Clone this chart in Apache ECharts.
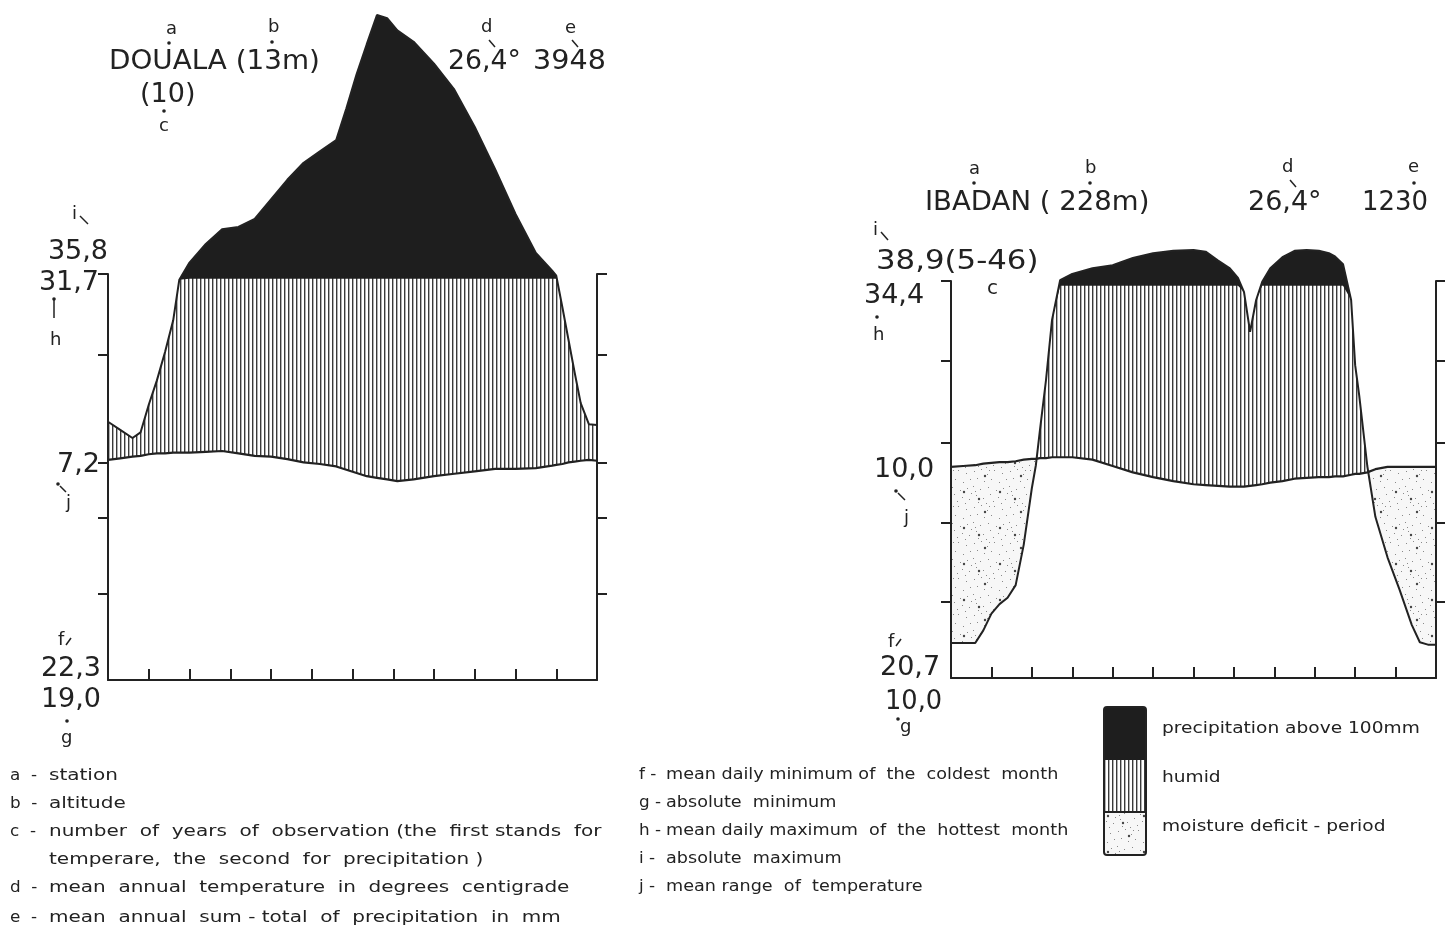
<!DOCTYPE html>
<html><head><meta charset="utf-8">
<script src="https://cdn.jsdelivr.net/npm/echarts@6/dist/echarts.min.js"></script>
<style>html,body{margin:0;padding:0;background:#fff}#c{width:1445px;height:931px}</style>
</head><body><div id="c"></div>
<script>
// ---- DATA (diagram units: 10 units = 10 °C = 20 mm; 50 units = 100 mm; above that 1 unit = 20 mm) ----
const doualaMonths = [0,0.3,0.6,0.8,1.0,1.2,1.4,1.6,1.75,2.0,2.4,2.8,3.2,3.6,4.0,4.4,4.8,5.2,5.6,5.85,6.1,6.35,6.6,6.85,7.1,7.5,8.0,8.5,9.0,9.5,10.0,10.5,10.9,11.0,11.15,11.3,11.45,11.6,11.8,12];
const doualaTemp = [27.1,27.3,27.5,27.6,27.8,27.9,27.9,28.0,28.0,28.0,28.1,28.2,27.9,27.6,27.5,27.2,26.8,26.6,26.3,25.9,25.5,25.1,24.9,24.7,24.5,24.7,25.1,25.4,25.7,26.0,26.0,26.1,26.4,26.5,26.6,26.8,26.9,27.0,27.1,27.0];
const doualaPrecip = [31.8,30.8,29.8,30.5,33.9,36.9,40.4,44.3,49.3,51.4,53.7,55.5,55.8,56.8,59.2,61.6,63.7,65.1,66.5,70.4,74.6,78.3,81.9,81.5,80.0,78.6,75.9,72.7,68.1,62.9,57.4,52.6,50.4,49.8,45.9,41.9,37.9,34.1,31.5,31.4];
const doualaTicks = [10.6,20,26.8,40,50];

const ibadanMonths = [0,0.3,0.6,0.8,1.0,1.2,1.4,1.6,1.8,2.0,2.1,2.2,2.35,2.5,2.7,3.0,3.5,4.0,4.5,5.0,5.5,6.0,6.3,6.6,6.9,7.1,7.25,7.4,7.55,7.7,7.9,8.2,8.5,8.8,9.1,9.35,9.5,9.7,9.9,10.0,10.1,10.3,10.5,10.8,11.1,11.4,11.6,11.8,12];
const ibadanTemp = [26.6,26.7,26.8,27.0,27.1,27.2,27.2,27.3,27.5,27.6,27.6,27.7,27.7,27.8,27.8,27.8,27.5,26.7,25.9,25.3,24.8,24.4,24.3,24.2,24.1,24.1,24.1,24.2,24.3,24.4,24.6,24.8,25.1,25.2,25.3,25.3,25.4,25.4,25.6,25.7,25.7,25.9,26.3,26.6,26.6,26.6,26.6,26.6,26.6];
const ibadanPrecip = [4.4,4.4,4.4,6.0,8.1,9.3,10.1,11.7,16.8,23.9,26.8,31.2,37.5,45.1,50.1,50.9,51.6,52.0,52.9,53.5,53.8,53.9,53.7,52.6,51.6,50.4,48.6,43.6,47.6,49.9,51.6,53.0,53.8,53.9,53.8,53.5,53.1,52.1,47.6,39.4,35.6,26.7,20.3,15.2,11.1,6.7,4.5,4.2,4.2];
const ibadanTicks = [9.6,19.6,29.6,40,50];

const PCAP = 49.4; // 100 mm level

// ---- patterns ----
function hatchPattern(){
  const c=document.createElement('canvas'); c.width=4; c.height=8;
  const x=c.getContext('2d'); x.fillStyle='#fff'; x.fillRect(0,0,4,8);
  x.fillStyle='#3a3a3a'; x.fillRect(0,0,1,8);
  x.fillStyle='#b0b0b0'; x.fillRect(1,0,1,8);
  return c;
}
function dotPattern(){
  const c=document.createElement('canvas'); c.width=36; c.height=36;
  const x=c.getContext('2d'); x.fillStyle='#f7f7f7'; x.fillRect(0,0,36,36);
  const small=[[2,3],[9,1],[15,6],[22,2],[30,5],[34,11],[5,10],[12,13],[19,11],[27,14],[1,18],[8,21],[16,19],[24,22],[31,20],[4,27],[11,30],[18,26],[26,29],[33,31],[6,34],[14,35],[21,33],[29,35],[35,25],[17,2],[3,23]];
  x.fillStyle='#8a8a8a';
  small.forEach(p=>x.fillRect(p[0],p[1],1,1));
  x.fillStyle='#444';
  [[13,8],[28,24],[7,31]].forEach(p=>{x.beginPath();x.arc(p[0],p[1],1.2,0,Math.PI*2);x.fill();});
  return c;
}
const HATCH={image:hatchPattern(),repeat:'repeat'};
const DOTS={image:dotPattern(),repeat:'repeat'};
const INK='#222';

function panel(idx, months, T, P, dry){
  const pairs=a=>months.map((m,i)=>[m,a[i]]);
  const base={type:'line',xAxisIndex:idx,yAxisIndex:idx*2,symbol:'none',showSymbol:false,clip:false,silent:true,animation:false};
  const hid={opacity:0,width:0};
  const s=[];
  s.push(Object.assign({},base,{name:'above100',data:pairs(P),lineStyle:hid,areaStyle:{color:'#1e1e1e',opacity:1,origin:'start'},z:2}));
  s.push(Object.assign({},base,{name:'humid',data:pairs(P.map(v=>Math.min(v,PCAP))),lineStyle:hid,areaStyle:{color:HATCH,opacity:1,origin:'start'},z:3}));
  if(dry){
    s.push(Object.assign({},base,{name:'dry',data:pairs(T),lineStyle:hid,areaStyle:{color:DOTS,opacity:1,origin:'start'},z:4}));
    s.push(Object.assign({},base,{name:'blank',data:pairs(T.map((t,i)=>Math.min(t,P[i]))),lineStyle:hid,areaStyle:{color:'#fff',opacity:1,origin:'start'},z:5}));
  } else {
    s.push(Object.assign({},base,{name:'blank',data:pairs(T),lineStyle:hid,areaStyle:{color:'#fff',opacity:1,origin:'start'},z:5}));
  }
  s.push(Object.assign({},base,{name:'temperature',data:pairs(T),lineStyle:{color:INK,width:2.2},z:6}));
  s.push(Object.assign({},base,{name:'precipitation',data:pairs(P),lineStyle:{color:INK,width:2},z:6}));
  return s;
}

function xAx(g){return {type:'value',gridIndex:g,min:0,max:12,interval:1,z:10,
  axisLine:{onZero:false,lineStyle:{color:INK,width:2}},
  axisTick:{inside:true,length:11,lineStyle:{color:INK,width:2}},
  axisLabel:{show:false},splitLine:{show:false}};}
function yAx(g,pos,ticks){return {type:'value',gridIndex:g,position:pos,min:0,max:50,interval:10,z:10,
  axisLine:{show:true,onZero:false,lineStyle:{color:INK,width:2}},
  axisTick:{show:true,inside:false,length:10,customValues:ticks,lineStyle:{color:INK,width:2}},
  axisLabel:{show:false},splitLine:{show:false}};}

// ---- text helpers ----
const FF='"DejaVu Sans", sans-serif';
function txt(s,x,y,size,opt){opt=opt||{};
  return {type:'text',x:x,y:y,scaleX:opt.sx||1,z:50,silent:true,
    style:{text:s,x:0,y:0,font:(opt.w||'normal')+' '+size+'px '+FF,fill:opt.c||INK,
      textAlign:opt.a||'left',align:opt.a||'left',textVerticalAlign:'middle',verticalAlign:'middle'}};}
function dot(x,y){return {type:'circle',z:50,silent:true,shape:{cx:x,cy:y,r:1.8},style:{fill:INK}};}
function seg(x1,y1,x2,y2){return {type:'line',z:50,silent:true,shape:{x1:x1,y1:y1,x2:x2,y2:y2},style:{stroke:INK,lineWidth:1.5}};}

const BIG=27, SML=18, LEG=16;
const g=[];
// Douala header
g.push(txt('a',166,29,SML),dot(169,43));
g.push(txt('b',268,27,SML),dot(272,42));
g.push(txt('DOUALA (13m)',109,62,BIG,{sx:1.03}));
g.push(txt('(10)',140,95,BIG));
g.push(dot(164,111),txt('c',159,126,SML));
g.push(txt('d',481,27,SML),seg(489,40,495,47));
g.push(txt('e',565,28,SML),seg(572,40,578,47));
g.push(txt('26,4°',448,62,BIG,{sx:0.99}),txt('3948',533,62,BIG,{sx:1.06}));
// Douala left labels
g.push(txt('i',72,214,SML),seg(80,216,88,224));
g.push(txt('35,8',108,252,BIG,{a:'right'}));
g.push(txt('31,7',99,283,BIG,{a:'right'}));
g.push(dot(54,299),seg(54,299,54,318),txt('h',50,340,SML));
g.push(txt('7,2',100,465,BIG,{a:'right'}));
g.push(dot(58,484),seg(60,486,66,492),txt('j',66,503,SML));
g.push(txt('f',58,640,SML),seg(66,645,71,638));
g.push(txt('22,3',101,669,BIG,{a:'right'}));
g.push(txt('19,0',101,700,BIG,{a:'right'}));
g.push(dot(67,721),txt('g',61,738,SML));
// Ibadan header
g.push(txt('a',969,169,SML),dot(974,183));
g.push(txt('b',1085,168,SML),dot(1090,183));
g.push(txt('d',1282,167,SML),seg(1290,180,1296,187));
g.push(txt('e',1408,167,SML),dot(1414,183));
g.push(txt('IBADAN ( 228m)',925,203,BIG,{sx:1.02}));
g.push(txt('26,4°',1248,203,BIG),txt('1230',1362,203,BIG,{sx:0.96}));
// Ibadan left labels
g.push(txt('i',873,230,SML),seg(881,232,888,240));
g.push(txt('38,9(5-46)',876,262,BIG,{sx:1.14}));
g.push(txt('34,4',864,296,BIG));
g.push(txt('c',987,289,SML+2));
g.push(dot(877,317),txt('h',873,335,SML));
g.push(txt('10,0',874,470,BIG));
g.push(dot(896,491),seg(898,493,905,500),txt('j',904,518,SML));
g.push(txt('f',888,642,SML),seg(896,646,901,639));
g.push(txt('20,7',880,668,BIG));
g.push(txt('10,0',885,702,BIG,{sx:0.95}));
g.push(dot(898,719),txt('g',900,727,SML));
// legend boxes
g.push({type:'rect',z:40,silent:true,shape:{x:1104,y:707,width:42,height:53},style:{fill:'#1e1e1e'}});
g.push({type:'rect',z:40,silent:true,shape:{x:1104,y:760,width:42,height:52},style:{fill:HATCH}});
g.push({type:'rect',z:40,silent:true,shape:{x:1104,y:812,width:42,height:43},style:{fill:DOTS}});
g.push({type:'rect',z:41,silent:true,shape:{x:1104,y:707,width:42,height:148,r:3},style:{fill:'none',stroke:INK,lineWidth:2}});
g.push({type:'line',z:41,silent:true,shape:{x1:1104,y1:812,x2:1146,y2:812},style:{stroke:INK,lineWidth:2}});
g.push(txt('precipitation above 100mm',1162,729,15,{sx:1.24}));
g.push(txt('humid',1162,778,15,{sx:1.24}));
g.push(txt('moisture deficit - period',1162,827,15,{sx:1.24}));
// key (left)
const keyL=[['a','station',776],['b','altitude',804],['c','number  of  years  of  observation (the  first stands  for',832],['','temperare,  the  second  for  precipitation )',860],['d','mean  annual  temperature  in  degrees  centigrade',888],['e','mean  annual  sum - total  of  precipitation  in  mm',918]];
keyL.forEach(k=>{ if(k[0]) g.push(txt(k[0]+'  -',10,k[2],LEG,{sx:1.05})); g.push(txt(k[1],49,k[2],LEG,{sx:1.25})); });
const keyR=[['f','mean daily minimum of  the  coldest  month',775],['g','absolute  minimum',803],['h','mean daily maximum  of  the  hottest  month',831],['i','absolute  maximum',859],['j','mean range  of  temperature',887]];
keyR.forEach(k=>{ g.push(txt(k[0]+' -',639,k[2],LEG,{sx:1.05})); g.push(txt(k[1],666,k[2],LEG,{sx:1.1})); });

const chart=echarts.init(document.getElementById('c'),null,{renderer:'canvas'});
chart.setOption({
  backgroundColor:'#fff',animation:false,
  grid:[{left:108,top:274,width:489,height:406},{left:951,top:281,width:485,height:397}],
  xAxis:[xAx(0),xAx(1)],
  yAxis:[yAx(0,'left',doualaTicks),yAx(0,'right',doualaTicks),yAx(1,'left',ibadanTicks),yAx(1,'right',ibadanTicks)],
  series:panel(0,doualaMonths,doualaTemp,doualaPrecip,false).concat(panel(1,ibadanMonths,ibadanTemp,ibadanPrecip,true)),
  graphic:g
});
</script></body></html>
